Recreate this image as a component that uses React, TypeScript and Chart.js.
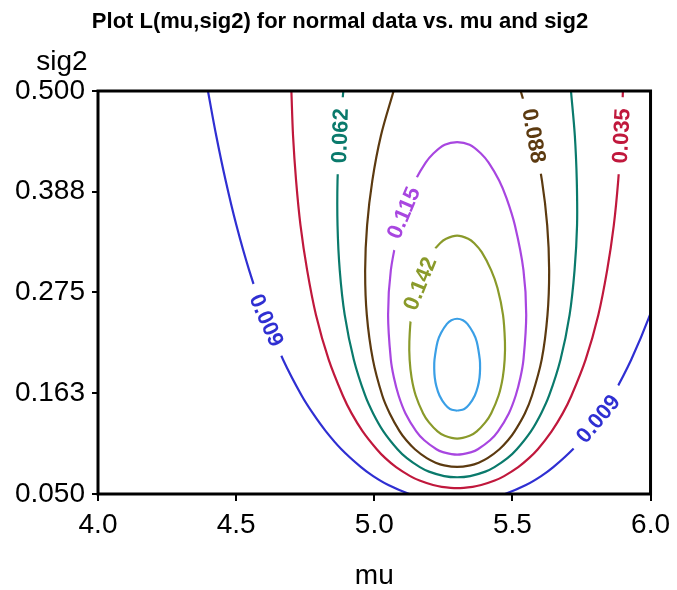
import React, { useEffect, useRef } from "react";
import { Chart, registerables } from "chart.js";

Chart.register(...registerables);

// ---- axis ticks ----
const MU_TICKS = [4.0, 4.5, 5.0, 5.5, 6.0];
const MU_TICK_LABELS = ["4.0", "4.5", "5.0", "5.5", "6.0"];
const SIG2_TICKS = [0.05, 0.1625, 0.275, 0.3875, 0.5];
const SIG2_TICK_LABELS = ["0.050", "0.163", "0.275", "0.388", "0.500"];

// ---- contour levels ----
const LEVELS = ["0.009", "0.035", "0.062", "0.088", "0.115", "0.142", "0.169"];
const COLORS = ["#2f2fd2", "#c0183c", "#0a7a6c", "#5c3a10", "#a846e0", "#8a9a2a", "#3a9fe6"];

// ---- contour paths (mu, sig2) ----
const C009_MU = [4.398, 4.428, 4.462, 4.501, 4.547, 4.602, 4.67, 4.737, 4.778, 4.825, 4.881, 4.952, 4.996, 5.051, 5.127, 5.185, 5.3, 5.415, 5.473, 5.549, 5.604, 5.648, 5.719, 5.775, 5.822, 5.863, 5.93, 5.998, 6.053];
const C009_SIG2 = [0.5, 0.45, 0.4, 0.35, 0.3, 0.25, 0.2, 0.16, 0.14, 0.12, 0.1, 0.08, 0.07, 0.06, 0.05, 0.045, 0.0412, 0.045, 0.05, 0.06, 0.07, 0.08, 0.1, 0.12, 0.14, 0.16, 0.2, 0.25, 0.3];

const C035_MU = [4.7, 4.706, 4.717, 4.733, 4.757, 4.789, 4.835, 4.886, 4.918, 4.958, 5.009, 5.04, 5.079, 5.13, 5.164, 5.213, 5.244, 5.3, 5.356, 5.387, 5.436, 5.47, 5.521, 5.56, 5.592, 5.642, 5.682, 5.714, 5.765, 5.811, 5.843, 5.867, 5.883, 5.894, 5.9];
const C035_SIG2 = [0.5, 0.45, 0.4, 0.35, 0.3, 0.25, 0.2, 0.16, 0.14, 0.12, 0.1, 0.09, 0.08, 0.07, 0.065, 0.06, 0.058, 0.0566, 0.058, 0.06, 0.065, 0.07, 0.08, 0.09, 0.1, 0.12, 0.14, 0.16, 0.2, 0.25, 0.3, 0.35, 0.4, 0.45, 0.5];

const C062_MU = [4.888, 4.874, 4.867, 4.867, 4.875, 4.893, 4.926, 4.967, 4.996, 5.033, 5.084, 5.118, 5.165, 5.198, 5.253, 5.3, 5.347, 5.402, 5.435, 5.482, 5.516, 5.567, 5.604, 5.633, 5.674, 5.707, 5.725, 5.734, 5.733, 5.726, 5.712];
const C062_SIG2 = [0.5, 0.45, 0.4, 0.35, 0.3, 0.25, 0.2, 0.16, 0.14, 0.12, 0.1, 0.09, 0.08, 0.075, 0.07, 0.0687, 0.07, 0.075, 0.08, 0.09, 0.1, 0.12, 0.14, 0.16, 0.2, 0.25, 0.3, 0.35, 0.4, 0.45, 0.5];

const C088_MU = [5.07, 5.024, 4.993, 4.974, 4.967, 4.973, 4.995, 5.029, 5.056, 5.092, 5.116, 5.147, 5.19, 5.222, 5.253, 5.3, 5.347, 5.378, 5.41, 5.453, 5.484, 5.508, 5.545, 5.571, 5.606, 5.627, 5.633, 5.626, 5.607, 5.576, 5.53];
const C088_SIG2 = [0.5, 0.45, 0.4, 0.35, 0.3, 0.25, 0.2, 0.16, 0.14, 0.12, 0.11, 0.1, 0.09, 0.085, 0.082, 0.0803, 0.082, 0.085, 0.09, 0.1, 0.11, 0.12, 0.14, 0.16, 0.2, 0.25, 0.3, 0.35, 0.4, 0.45, 0.5];

const C115_MU = [5.091, 5.121, 5.148, 5.186, 5.213, 5.255, 5.3, 5.345, 5.387, 5.414, 5.452, 5.479, 5.509, 5.54, 5.55, 5.54, 5.529, 5.512, 5.487, 5.448, 5.419, 5.375, 5.354, 5.3, 5.246, 5.225, 5.181, 5.152, 5.113, 5.088, 5.071, 5.06, 5.05, 5.06, 5.091];
const C115_SIG2 = [0.35, 0.38, 0.4, 0.42, 0.43, 0.44, 0.443, 0.44, 0.43, 0.42, 0.4, 0.38, 0.35, 0.3, 0.25, 0.2, 0.18, 0.16, 0.14, 0.12, 0.11, 0.1, 0.097, 0.094, 0.097, 0.1, 0.11, 0.12, 0.14, 0.16, 0.18, 0.2, 0.25, 0.3, 0.35];

const C142_MU = [5.154, 5.177, 5.211, 5.238, 5.26, 5.3, 5.34, 5.362, 5.389, 5.423, 5.446, 5.466, 5.473, 5.472, 5.465, 5.45, 5.423, 5.402, 5.371, 5.345, 5.3, 5.255, 5.229, 5.198, 5.177, 5.15, 5.135, 5.128, 5.127, 5.134, 5.154];
const C142_SIG2 = [0.28, 0.3, 0.32, 0.33, 0.335, 0.3385, 0.335, 0.33, 0.32, 0.3, 0.28, 0.25, 0.22, 0.2, 0.18, 0.16, 0.14, 0.13, 0.12, 0.115, 0.1119, 0.115, 0.12, 0.13, 0.14, 0.16, 0.18, 0.2, 0.22, 0.25, 0.28];

const C169_MU = [5.3, 5.326, 5.344, 5.364, 5.375, 5.381, 5.383, 5.382, 5.371, 5.358, 5.337, 5.321, 5.3, 5.279, 5.263, 5.242, 5.229, 5.218, 5.217, 5.219, 5.225, 5.236, 5.256, 5.274, 5.3];
const C169_SIG2 = [0.143, 0.145, 0.15, 0.16, 0.17, 0.18, 0.19, 0.2, 0.22, 0.23, 0.24, 0.244, 0.2457, 0.244, 0.24, 0.23, 0.22, 0.2, 0.19, 0.18, 0.17, 0.16, 0.15, 0.145, 0.143];

// ---- contour label anchors (data coords) ----
const LABEL_LEVEL = [0, 0, 1, 2, 3, 4, 5];
const LABEL_MU = [4.61, 5.81, 5.894, 4.876, 5.578, 5.106, 5.165];
const LABEL_SIG2 = [0.244, 0.134, 0.45, 0.45, 0.45, 0.364, 0.285];
const LABEL_ANGLE = [66, -50, -87, -88, 80, -67, -68];

const TITLE = "Plot L(mu,sig2) for normal data vs. mu and sig2";
const X_TITLE = "mu";
const Y_TITLE = "sig2";

const FONT = '"Liberation Sans", Arial, Helvetica, sans-serif';

const CONTOURS = [
  { mu: C009_MU, sig2: C009_SIG2 },
  { mu: C035_MU, sig2: C035_SIG2 },
  { mu: C062_MU, sig2: C062_SIG2 },
  { mu: C088_MU, sig2: C088_SIG2 },
  { mu: C115_MU, sig2: C115_SIG2 },
  { mu: C142_MU, sig2: C142_SIG2 },
  { mu: C169_MU, sig2: C169_SIG2 },
];

const decorPlugin = {
  id: "decor",
  afterDatasetsDraw(chart: any) {
    const { ctx, chartArea: a } = chart;
    const xs = chart.scales.x;
    const ys = chart.scales.y;
    ctx.save();
    ctx.font = `bold 22px ${FONT}`;
    LABEL_LEVEL.forEach((lv, i) => {
      const text = LEVELS[lv];
      const px = xs.getPixelForValue(LABEL_MU[i]);
      const py = ys.getPixelForValue(LABEL_SIG2[i]);
      const w = ctx.measureText(text).width;
      ctx.save();
      ctx.translate(px, py);
      ctx.rotate((LABEL_ANGLE[i] * Math.PI) / 180);
      ctx.fillStyle = "#ffffff";
      ctx.fillRect(-w / 2 - 11, -9, w + 22, 18);
      ctx.fillStyle = COLORS[lv];
      ctx.textAlign = "center";
      ctx.textBaseline = "middle";
      ctx.fillText(text, 0, 1);
      ctx.restore();
    });
    // plot frame
    ctx.strokeStyle = "#000";
    ctx.lineWidth = 3;
    ctx.strokeRect(a.left, a.top, a.right - a.left, a.bottom - a.top);
    // title
    ctx.fillStyle = "#000";
    ctx.textAlign = "center";
    ctx.textBaseline = "alphabetic";
    ctx.font = `bold 22px ${FONT}`;
    ctx.fillText(TITLE, 340, 28);
    // y-axis title (horizontal, above axis)
    ctx.font = `28px ${FONT}`;
    ctx.fillText(Y_TITLE, 62, 70);
    ctx.restore();
  },
};

export default function App() {
  const ref = useRef<HTMLCanvasElement | null>(null);
  useEffect(() => {
    if (!ref.current) return;
    const datasets = CONTOURS.map((c, i) => ({
      label: LEVELS[i],
      data: c.mu.map((m, j) => ({ x: m, y: c.sig2[j] })),
      showLine: true,
      borderColor: COLORS[i],
      backgroundColor: COLORS[i],
      borderWidth: 2.2,
      pointRadius: 0,
      pointHoverRadius: 0,
      tension: 0.35,
      fill: false,
    }));
    const chart = new Chart(ref.current, {
      type: "scatter",
      data: { datasets },
      plugins: [decorPlugin],
      options: {
        animation: false,
        responsive: false,
        devicePixelRatio: 1,
        layout: { padding: { top: 91, right: 20, left: 0, bottom: 0 } },
        plugins: { legend: { display: false }, tooltip: { enabled: false }, title: { display: false } },
        scales: {
          x: {
            type: "linear",
            min: 4,
            max: 6,
            afterFit: (s: any) => { s.height = 96; },
            afterBuildTicks: (s: any) => { s.ticks = MU_TICKS.map((v) => ({ value: v })); },
            ticks: {
              callback: (_v: any, i: number) => MU_TICK_LABELS[i],
              color: "#000",
              font: { family: FONT, size: 28 },
              padding: 7,
              maxRotation: 0,
            },
            grid: { display: true, drawOnChartArea: false, drawTicks: true, tickLength: 7, color: "#000", lineWidth: 2 },
            border: { display: false },
            title: { display: true, text: X_TITLE, color: "#000", font: { family: FONT, size: 28, lineHeight: 1.0 }, padding: { top: 0, bottom: 0 } },
          },
          y: {
            type: "linear",
            min: 0.05,
            max: 0.5,
            afterFit: (s: any) => { s.width = 98; },
            afterBuildTicks: (s: any) => { s.ticks = SIG2_TICKS.map((v) => ({ value: v })); },
            ticks: {
              callback: (_v: any, i: number) => SIG2_TICK_LABELS[i],
              color: "#000",
              font: { family: FONT, size: 28 },
              padding: 7,
            },
            grid: { display: true, drawOnChartArea: false, drawTicks: true, tickLength: 6, color: "#000", lineWidth: 2 },
            border: { display: false },
          },
        },
      },
    } as any);
    return () => chart.destroy();
  }, []);
  return (
    <div style={{ position: "fixed", left: 0, top: 0, width: 677, height: 590, background: "#fff" }}>
      <canvas ref={ref} width={677} height={590} style={{ width: 677, height: 590, display: "block" }} />
    </div>
  );
}
